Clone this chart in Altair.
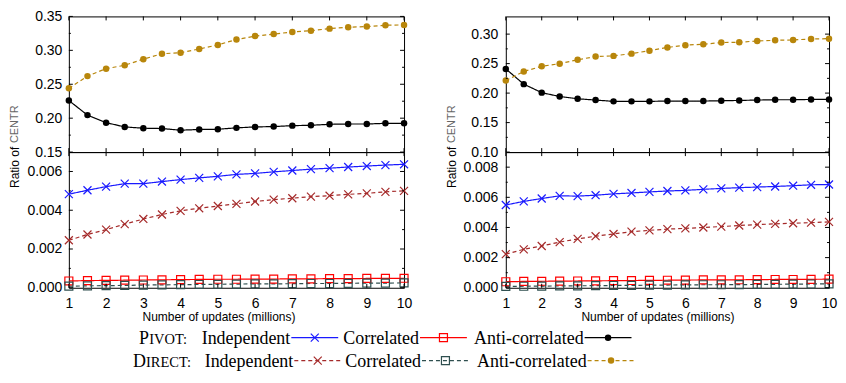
import altair as alt
import pandas as pd

# ---------------- data ----------------
X = [1, 1.5, 2, 2.5, 3, 3.5, 4, 4.5, 5, 5.5, 6, 6.5, 7, 7.5, 8, 8.5, 9, 9.5, 10]

# left panel
L_pivot_ind = [0.00483, 0.00503, 0.00522, 0.00537, 0.00537, 0.00548, 0.00558, 0.00567, 0.00575, 0.00585,
               0.00590, 0.00598, 0.00605, 0.00612, 0.00617, 0.00623, 0.00628, 0.00633, 0.00637]
L_pivot_cor = [0.00035, 0.00037, 0.00038, 0.00039, 0.00040, 0.00041, 0.00042, 0.00043, 0.00044, 0.00044,
               0.00045, 0.00045, 0.00046, 0.00046, 0.00047, 0.00047, 0.00048, 0.00048, 0.00049]
L_pivot_anti = [0.2260, 0.2045, 0.1934, 0.1871, 0.1852, 0.1847, 0.1823, 0.1833, 0.1837, 0.1857,
                0.1871, 0.1876, 0.1890, 0.1895, 0.1910, 0.1914, 0.1914, 0.1924, 0.1924]
L_direct_ind = [0.00245, 0.00275, 0.00300, 0.00328, 0.00355, 0.00378, 0.00397, 0.00410, 0.00422, 0.00433,
                0.00445, 0.00455, 0.00462, 0.00470, 0.00475, 0.00482, 0.00487, 0.00495, 0.00500]
L_direct_cor = [0.00008, 0.00010, 0.00011, 0.00012, 0.00014, 0.00015, 0.00016, 0.00017, 0.00018, 0.00019,
                0.00020, 0.00020, 0.00021, 0.00022, 0.00022, 0.00023, 0.00024, 0.00024, 0.00025]
L_direct_anti = [0.2440, 0.2620, 0.2730, 0.2780, 0.2870, 0.2950, 0.2965, 0.3020, 0.3080, 0.3160,
                 0.3210, 0.3240, 0.3270, 0.3290, 0.3320, 0.3340, 0.3350, 0.3370, 0.3375]

# right panel
R_pivot_ind = [0.00549, 0.00573, 0.00592, 0.00610, 0.00608, 0.00614, 0.00623, 0.00629, 0.00636, 0.00642,
               0.00646, 0.00653, 0.00659, 0.00664, 0.00668, 0.00672, 0.00677, 0.00683, 0.00685]
R_pivot_cor = [0.00040, 0.00042, 0.00043, 0.00044, 0.00045, 0.00046, 0.00047, 0.00048, 0.00049, 0.00050,
               0.00051, 0.00052, 0.00052, 0.00053, 0.00054, 0.00055, 0.00055, 0.00056, 0.00057]
R_pivot_anti = [0.2410, 0.2152, 0.2008, 0.1942, 0.1904, 0.1882, 0.1860, 0.1860, 0.1860, 0.1865,
                0.1865, 0.1865, 0.1870, 0.1876, 0.1882, 0.1887, 0.1887, 0.1893, 0.1893]
R_direct_ind = [0.00223, 0.00255, 0.00277, 0.00303, 0.00324, 0.00342, 0.00357, 0.00372, 0.00381, 0.00389,
                0.00394, 0.00400, 0.00406, 0.00413, 0.00419, 0.00424, 0.00428, 0.00432, 0.00437]
R_direct_cor = [0.00009, 0.00010, 0.00011, 0.00012, 0.00013, 0.00014, 0.00015, 0.00016, 0.00017, 0.00018,
                0.00019, 0.00020, 0.00020, 0.00021, 0.00022, 0.00023, 0.00024, 0.00025, 0.00026]
R_direct_anti = [0.2212, 0.2366, 0.2455, 0.2499, 0.2565, 0.2620, 0.2631, 0.2669, 0.2719, 0.2774,
                 0.2813, 0.2829, 0.2857, 0.2862, 0.2884, 0.2895, 0.2901, 0.2917, 0.2923]

SERIES = ["pivot_ind", "pivot_cor", "pivot_anti", "direct_ind", "direct_cor", "direct_anti"]
LEGEND_LABELS = ["Independent", "Correlated", "Anti-correlated", "Independent", "Correlated", "Anti-correlated"]
ROW_HEADS = ["P", "IVOT:", "D", "IRECT:"]

X_TICKS = [1, 2, 3, 4, 5, 6, 7, 8, 9, 10]
L_TOP_TICKS = [0.15, 0.20, 0.25, 0.30, 0.35]
L_TOP_MINOR = [0.175, 0.225, 0.275, 0.325]
L_BOT_TICKS = [0.0, 0.002, 0.004, 0.006]
L_BOT_MINOR = [0.001, 0.003, 0.005]
R_TOP_TICKS = [0.10, 0.15, 0.20, 0.25, 0.30]
R_TOP_MINOR = [0.125, 0.175, 0.225, 0.275]
R_BOT_TICKS = [0.0, 0.002, 0.004, 0.006, 0.008]
R_BOT_MINOR = [0.001, 0.003, 0.005, 0.007]

X_TITLE = "Number of updates (millions)"

# ---------------- style ----------------
SANS = "Liberation Sans"
SERIF = "Liberation Serif"
XPATH = "M-1,-1L1,1M1,-1L-1,1"
COLORS = ["#1a1aff", "#ff0000", "#000000", "#a52a2a", "#2f4f4f", "#b8860b"]
DASHES = [[1, 0], [1, 0], [1, 0], [4, 3], [4, 3], [4, 3]]
SHAPES = [XPATH, "square", "circle", XPATH, "square", "circle"]
OPEN = ["pivot_ind", "pivot_cor", "direct_ind", "direct_cor"]
FILLED = ["pivot_anti", "direct_anti"]

color_scale = alt.Scale(domain=SERIES, range=COLORS)
dash_scale = alt.Scale(domain=SERIES, range=DASHES)
shape_scale = alt.Scale(domain=SERIES, range=SHAPES)

H = 136
WL, WR = 336, 324


def long_df(pairs):
    rows = []
    for name, vals in pairs:
        for xv, yv in zip(X, vals):
            rows.append({"series": name, "x": xv, "y": yv})
    return pd.DataFrame(rows)


def sub(df, ydom, ymaj, ymin, fmt, W, bottom, lab_pad, title_x):
    xs = alt.Scale(domain=[1, 10], nice=False, zero=False)
    ys = alt.Scale(domain=ydom, nice=False, zero=False)
    if bottom:
        xaxis = alt.Axis(values=X_TICKS, format="d", ticks=False, tickSize=0, domain=False, grid=False,
                         labelFont=SANS, labelFontSize=14, labelColor="black", labelPadding=9,
                         labelFlush=False, title=X_TITLE, titleFont=SANS, titleFontSize=12,
                         titleFontWeight="normal", titleColor="black", titleX=title_x, titleY=29,
                         titleBaseline="middle", titleAlign="center")
    else:
        xaxis = None
    yaxis = alt.Axis(values=ymaj, format=fmt, ticks=False, tickSize=0, domain=False, grid=False,
                     labelFont=SANS, labelFontSize=14, labelColor="black", labelPadding=lab_pad,
                     labelFlush=False, title=None)

    def X_(f):
        return alt.X(f, scale=xs, axis=xaxis, title=X_TITLE if bottom else None)

    def Y_(f):
        return alt.Y(f, scale=ys, axis=yaxis, title=None)

    base = alt.Chart(df)
    lines = base.mark_line(strokeWidth=1.2).encode(
        x=X_("x:Q"), y=Y_("y:Q"),
        color=alt.Color("series:N", scale=color_scale, legend=None),
        strokeDash=alt.StrokeDash("series:N", scale=dash_scale, legend=None),
    )
    open_pts = base.transform_filter(alt.FieldOneOfPredicate(field="series", oneOf=OPEN)).mark_point(
        filled=False, size=64, strokeWidth=1.2, opacity=1).encode(
        x=X_("x:Q"), y=Y_("y:Q"),
        color=alt.Color("series:N", scale=color_scale, legend=None),
        shape=alt.Shape("series:N", scale=shape_scale, legend=None),
    )
    filled_pts = base.transform_filter(alt.FieldOneOfPredicate(field="series", oneOf=FILLED)).mark_point(
        filled=True, size=42, opacity=1).encode(
        x=X_("x:Q"), y=Y_("y:Q"),
        color=alt.Color("series:N", scale=color_scale, legend=None),
        shape=alt.Shape("series:N", scale=shape_scale, legend=None),
    )
    layers = [lines, open_pts, filled_pts]
    # inward ticks on all four sides
    for vals, ln in ((ymaj, 4), (ymin, 2)):
        t = alt.Chart(pd.DataFrame({"v": vals}))
        layers.append(t.mark_rule(color="black", strokeWidth=1).encode(
            y=Y_("v:Q"), x=alt.value(0), x2=alt.value(ln)))
        layers.append(t.mark_rule(color="black", strokeWidth=1).encode(
            y=Y_("v:Q"), x=alt.value(W - ln), x2=alt.value(W)))
    t = alt.Chart(pd.DataFrame({"v": X_TICKS}))
    layers.append(t.mark_rule(color="black", strokeWidth=1).encode(
        x=X_("v:Q"), y=alt.value(H), y2=alt.value(H - 4)))
    layers.append(t.mark_rule(color="black", strokeWidth=1).encode(
        x=X_("v:Q"), y=alt.value(0), y2=alt.value(4)))
    if bottom:
        layers.append(alt.Chart(pd.DataFrame({"t": ["Ratio of"]})).mark_text(
            angle=270, align="left", baseline="middle", font=SANS, fontSize=12, color="black").encode(
            x=alt.value(-54), y=alt.value(36), text="t:N"))
        layers.append(alt.Chart(pd.DataFrame({"t": ["CENTR"]})).mark_text(
            angle=270, align="left", baseline="middle", font=SANS, fontSize=11, color="#666666").encode(
            x=alt.value(-54), y=alt.value(-9), text="t:N"))
    return alt.layer(*layers).properties(width=W, height=H)


left_top = long_df([("pivot_anti", L_pivot_anti), ("direct_anti", L_direct_anti)])
left_bot = long_df([("pivot_ind", L_pivot_ind), ("pivot_cor", L_pivot_cor),
                    ("direct_ind", L_direct_ind), ("direct_cor", L_direct_cor)])
right_top = long_df([("pivot_anti", R_pivot_anti), ("direct_anti", R_direct_anti)])
right_bot = long_df([("pivot_ind", R_pivot_ind), ("pivot_cor", R_pivot_cor),
                     ("direct_ind", R_direct_ind), ("direct_cor", R_direct_cor)])

tl = sub(left_top, [0.15, 0.35], L_TOP_TICKS, L_TOP_MINOR, ".2f", WL, False, 7, 150)
bl = sub(left_bot, [0.0, 0.007], L_BOT_TICKS, L_BOT_MINOR, ".3f", WL, True, 7, 150)
tr = sub(right_top, [0.10, 0.33], R_TOP_TICKS, R_TOP_MINOR, ".2f", WR, False, 8, 152)
br = sub(right_bot, [0.0, 0.009], R_BOT_TICKS, R_BOT_MINOR, ".3f", WR, True, 8, 152)

# ---------------- legend (layout in px, relative to left plot origin) ----------------
LEG_END = [[223, 352, 517], [226, 354, 520]]
LEG_BASE = [56.2, 79.2]
LEG_SYM = [50.0, 73.0]
SEG = 47
leg_rows = []
for i, s in enumerate(SERIES):
    r, c = i // 3, i % 3
    e = LEG_END[r][c]
    leg_rows.append({"series": s, "label": LEGEND_LABELS[i], "tx": e - 1, "ty": LEG_BASE[r],
                     "x1": e, "x2": e + SEG, "sx": e + SEG / 2, "sy": LEG_SYM[r]})
leg = pd.DataFrame(leg_rows)
heads = pd.DataFrame({"t": ROW_HEADS, "x": [70.3, 80.6, 64.3, 77.3],
                      "y": [LEG_BASE[0], LEG_BASE[0], LEG_BASE[1], LEG_BASE[1]],
                      "fs": [18, 14.5, 18, 14.5]})

lb = alt.Chart(leg)
leg_lines = lb.mark_rule(strokeWidth=1.2).encode(
    x=alt.X("x1:Q", scale=None, axis=None), x2="x2:Q",
    y=alt.Y("sy:Q", scale=None, axis=None),
    color=alt.Color("series:N", scale=color_scale, legend=None),
    strokeDash=alt.StrokeDash("series:N", scale=dash_scale, legend=None))
leg_open = lb.transform_filter(alt.FieldOneOfPredicate(field="series", oneOf=OPEN)).mark_point(
    filled=False, size=64, strokeWidth=1.2, opacity=1).encode(
    x=alt.X("sx:Q", scale=None, axis=None), y=alt.Y("sy:Q", scale=None, axis=None),
    color=alt.Color("series:N", scale=color_scale, legend=None),
    shape=alt.Shape("series:N", scale=shape_scale, legend=None))
leg_filled = lb.transform_filter(alt.FieldOneOfPredicate(field="series", oneOf=FILLED)).mark_point(
    filled=True, size=42, opacity=1).encode(
    x=alt.X("sx:Q", scale=None, axis=None), y=alt.Y("sy:Q", scale=None, axis=None),
    color=alt.Color("series:N", scale=color_scale, legend=None),
    shape=alt.Shape("series:N", scale=shape_scale, legend=None))
leg_text = lb.mark_text(align="right", baseline="alphabetic", font=SERIF, fontSize=18, color="black").encode(
    x=alt.X("tx:Q", scale=None, axis=None), y=alt.Y("ty:Q", scale=None, axis=None), text="label:N")
head_text = alt.Chart(heads).mark_text(align="left", baseline="alphabetic", font=SERIF, color="black").encode(
    x=alt.X("x:Q", scale=None, axis=None), y=alt.Y("y:Q", scale=None, axis=None), text="t:N",
    size=alt.Size("fs:Q", scale=None, legend=None))

legend = alt.layer(leg_lines, leg_open, leg_filled, leg_text, head_text).properties(
    width=WL, height=80, view=alt.ViewBackground(stroke="transparent"))

chart = alt.concat(tl, tr, bl, br, legend, columns=2, spacing={"row": 0, "column": 102},
                   bounds="flush").properties(
    padding={"left": 0, "top": 0, "right": 0, "bottom": 0}
).configure_view(stroke="black", strokeWidth=1)

chart.save("out.html", embed_options={"renderer": "svg", "actions": False})
